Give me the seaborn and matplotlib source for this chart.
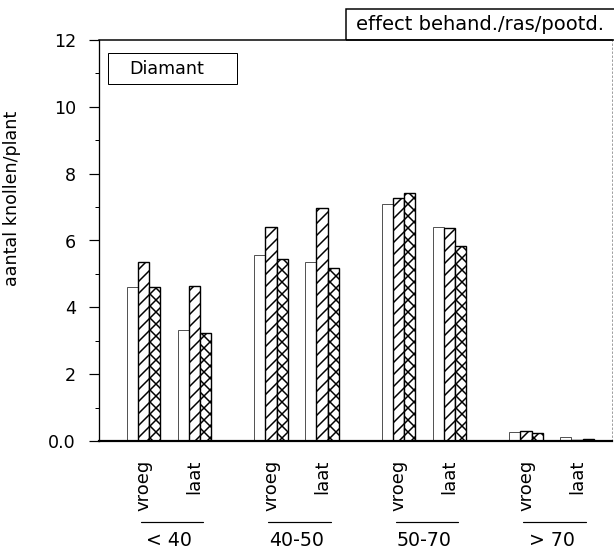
import numpy as np
import pandas as pd
import matplotlib
matplotlib.use("Agg")
import matplotlib.pyplot as plt
import matplotlib.transforms as mtransforms
from matplotlib.patches import Rectangle
import seaborn as sns

# Size classes of the seed tubers and planting time within each class
size_classes = ["< 40", "40-50", "50-70", "> 70"]
timing = ["vroeg", "laat"]
treatments = ["behandeling 1", "behandeling 2", "behandeling 3"]

# Number of tubers per plant, ordered (< 40 vroeg, < 40 laat, 40-50 vroeg, ...)
tubers_b1 = [4.60, 3.32, 5.57, 5.35, 7.08, 6.41, 0.28, 0.12]
tubers_b2 = [5.37, 4.65, 6.40, 6.97, 7.28, 6.38, 0.30, 0.02]
tubers_b3 = [4.62, 3.24, 5.44, 5.17, 7.43, 5.83, 0.25, 0.07]

y_ticks = [0, 2, 4, 6, 8, 10, 12]
y_tick_labels = ["0.0", "2", "4", "6", "8", "10", "12"]

# x position of each (size class, timing) cluster: clusters within a class
# one unit apart, classes separated by a wider gap
positions = [g * 2.5 + s for g in range(len(size_classes)) for s in range(len(timing))]
tick_labels = [t for _ in size_classes for t in timing]

rows = []
for name, vals in zip(treatments, [tubers_b1, tubers_b2, tubers_b3]):
    for p, v in zip(positions, vals):
        rows.append({"pos": p, "behandeling": name, "aantal": v})
df = pd.DataFrame(rows)

sns.set_style("ticks")
plt.rcParams["font.family"] = ["DejaVu Sans"]
plt.rcParams["hatch.linewidth"] = 1.5
plt.rcParams["text.color"] = "black"

W, H = 614, 551
DPI = 72
fig = plt.figure(figsize=(W / DPI, H / DPI), dpi=DPI)
ax = fig.add_axes([99 / W, 110 / H, 513 / W, 401 / H])

sns.barplot(
    data=df, x="pos", y="aantal", hue="behandeling", hue_order=treatments,
    native_scale=True, width=0.65, dodge=True, errorbar=None,
    palette={t: "white" for t in treatments}, saturation=1,
    edgecolor="black", linewidth=1.4, legend=False, ax=ax,
)

hatches = ["", "//", "xx"]
for cont, hatch in zip(ax.containers, hatches):
    for bar in cont:
        bar.set_hatch(hatch)
        if hatch == "":
            bar.set_edgecolor("#555555")
            bar.set_linewidth(1.0)

ax.set_xlim(-0.873, 9.186)
ax.set_ylim(0, 12)

ax.set_yticks(y_ticks)
ax.set_yticklabels(y_tick_labels)
ax.set_yticks(np.arange(1, 12, 2), minor=True)
ax.tick_params(axis="y", which="major", length=10, width=1.2, pad=13,
               labelsize=17.5, direction="out", colors="black")
ax.tick_params(axis="y", which="minor", length=4, width=1.0, direction="out",
               colors="black")

ax.set_xticks(positions)
ax.set_xticklabels(tick_labels, rotation=90, fontsize=18)
ax.tick_params(axis="x", length=0, pad=19, colors="black")
ax.set_xlabel("")
ax.set_ylabel("")

for side in ["top", "bottom", "left", "right"]:
    ax.spines[side].set_visible(True)
    ax.spines[side].set_color("black")
ax.spines["bottom"].set_linewidth(2.2)
ax.spines["left"].set_linewidth(1.3)
ax.spines["top"].set_linewidth(1.5)
ax.spines["right"].set_linewidth(0.8)
ax.spines["right"].set_linestyle((0, (2, 3)))
ax.spines["right"].set_color("#888888")

# Underlines and size-class labels beneath each pair of clusters
blend = mtransforms.blended_transform_factory(ax.transData, ax.transAxes)
for g, label in enumerate(size_classes):
    x0 = g * 2.5
    ax.plot([x0 - 0.05, x0 + 1.17], [-0.202, -0.202], transform=blend,
            color="black", lw=1.2, clip_on=False)
    ax.text(x0 + 0.5, -0.247, label, transform=blend, ha="center",
            va="center", fontsize=19)

# Title box at the top right
fig.add_artist(Rectangle((346 / W, (H - 40) / H), (640 - 346) / W, 31 / H,
                         transform=fig.transFigure, fill=False,
                         edgecolor="black", lw=1.5, clip_on=False))
fig.text(356 / W, (H - 24) / H, "effect behand./ras/pootd.", ha="left",
         va="center", fontsize=19.5)

# Variety box inside the plot
fig.add_artist(Rectangle((108 / W, (H - 84) / H), 129 / W, 31 / H,
                         transform=fig.transFigure, fill=False,
                         edgecolor="black", lw=1.0))
fig.text(129 / W, (H - 69) / H, "Diamant", ha="left", va="center",
         fontsize=17.5)

# Axis title along the left edge of the figure
fig.text(21 / W, (H - 198) / H, "aantal knollen/plant", rotation=90,
         ha="right", va="center", fontsize=17.5)

fig.savefig("out.png", dpi=DPI)
